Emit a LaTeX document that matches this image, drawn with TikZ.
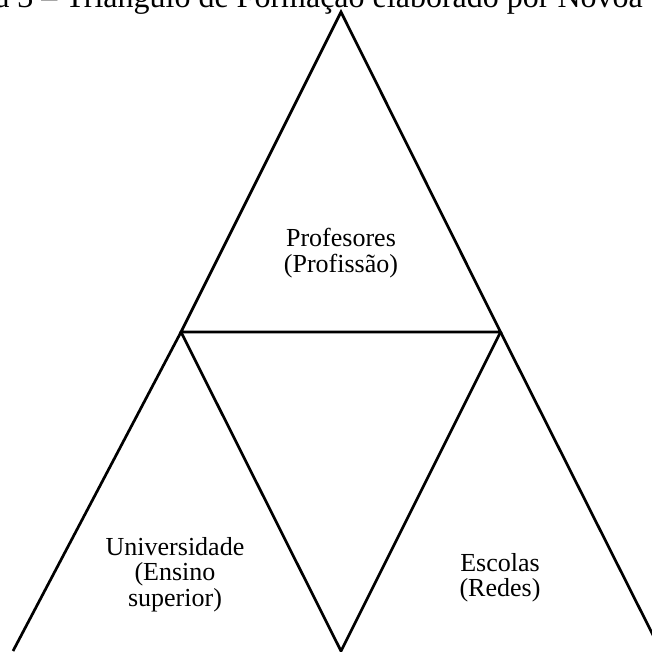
\documentclass[tikz,border=0pt]{standalone}
\usepackage{fontspec}
\setmainfont{Liberation Serif}
\begin{document}
\begin{tikzpicture}[x=1pt,y=1pt,
  edge/.style={line width=2.7pt,line join=miter,black},
  lbl/.style={align=center,inner sep=0pt,font=\fontsize{26}{25.5}\selectfont}]
\useasboundingbox (0,0) rectangle (652,651);
\clip (0,0) rectangle (652,651);
% vertices
\coordinate (A) at (341,639);
\coordinate (L) at (181,319);
\coordinate (R) at (500.5,319);
\coordinate (M) at (341,0);
\coordinate (BL) at (13,0);
\coordinate (BR) at (661,0);
% title (cropped)
\node[anchor=base east,inner sep=0pt,font=\fontsize{32}{34}\selectfont] (title) at (643,643.5) {a 3 – Triângulo de Formação elaborado por Nóvoa};
% triangles
\draw[edge] (L) -- (A) -- (R) -- cycle;
\draw[edge] (L) -- (M) -- (R);
\draw[edge] (BL) -- (L);
\draw[edge] (R) -- (BR);
% labels
\node[lbl] (prof) at (341,398) {Profesores\\(Profissão)};
\node[lbl] (univ) at (175,76.5) {Universidade\\(Ensino\\superior)};
\node[lbl] (esc) at (500,73.5) {Escolas\\(Redes)};
\end{tikzpicture}
\end{document}
